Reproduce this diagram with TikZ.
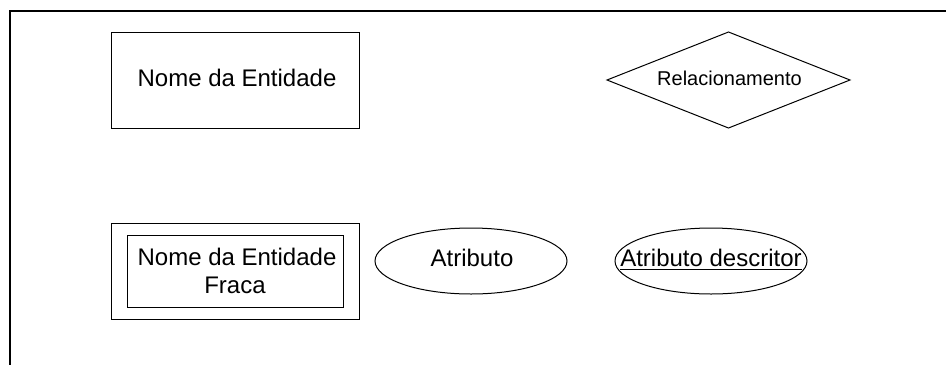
\documentclass[tikz,border=0pt]{standalone}
\usepackage{fontspec}
\setmainfont{Liberation Sans}
\usetikzlibrary{shapes.geometric}
\begin{document}
\begin{tikzpicture}[x=1pt,y=-1pt,
  outline/.style={draw=black, line width=1pt, inner sep=0pt, outer sep=0pt},
  entbox/.style={outline, rectangle, minimum width=248pt, minimum height=96pt},
  innerbox/.style={outline, rectangle, minimum width=216pt, minimum height=72pt},
  relshape/.style={outline, diamond, minimum width=243pt, minimum height=96pt},
  attrshape/.style={outline, ellipse, minimum width=192pt, minimum height=66pt},
  txt/.style={inner sep=0pt, outer sep=0pt, anchor=base, font=\fontsize{24}{28}\selectfont},
  smalltxt/.style={txt, font=\fontsize{20}{24}\selectfont}]
\useasboundingbox (0,0) rectangle (946,365);

% open frame: top and left edges
\coordinate (frameTR) at (946,11);
\coordinate (frameTL) at (10,11);
\coordinate (frameBL) at (10,365);
\draw[line width=2pt] (frameTR) -- (frameTL) -- (frameBL);

% entity
\node[entbox] (ent) at (235,80) {};
\node[txt] (entT) at (237,86) {Nome da Entidade};

% relationship
\node[relshape] (rel) at (728.5,80) {};
\node[smalltxt] (relT) at (729.5,85) {Relacionamento};

% weak entity
\node[entbox] (weakOuter) at (235,271) {};
\node[innerbox] (weakInner) at (235,271) {};
\node[txt] (weakT1) at (237,265) {Nome da Entidade};
\node[txt] (weakT2) at (235,293) {Fraca};

% attribute
\node[attrshape] (attr) at (471,261) {};
\node[txt] (attrT) at (472,266) {Atributo};

% descriptor attribute
\node[attrshape] (desc) at (711,261) {};
\node[txt] (descT) at (711,266) {Atributo descritor};
\draw[line width=1pt] ([yshift=-3pt]descT.base west) -- ([yshift=-3pt]descT.base east);
\end{tikzpicture}
\end{document}
